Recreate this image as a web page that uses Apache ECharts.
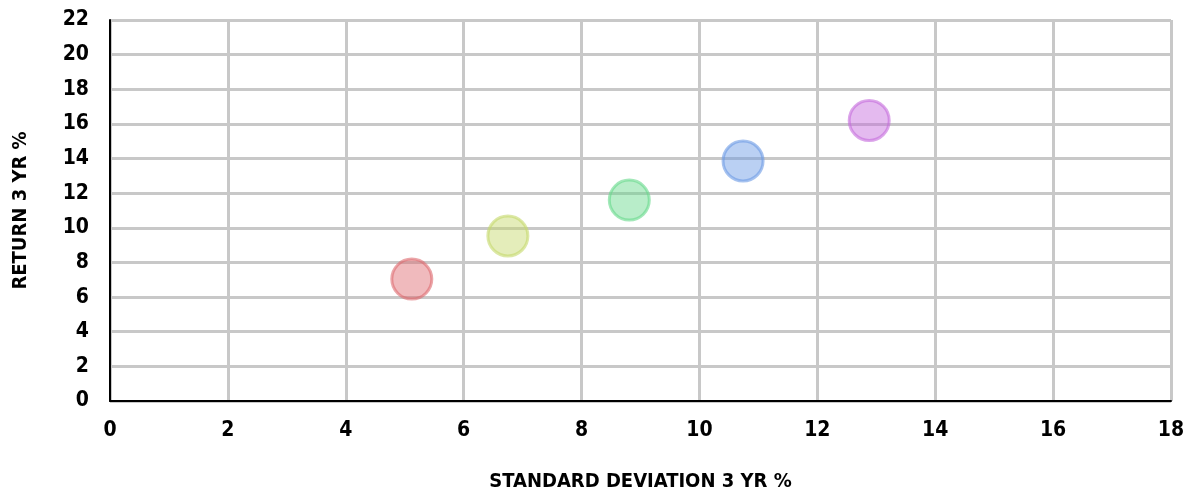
<!DOCTYPE html>
<html><head><meta charset="utf-8">
<script src="https://cdn.jsdelivr.net/npm/echarts@6/dist/echarts.min.js"></script>
<style>html,body{margin:0;padding:0;background:#fff}#c{width:1185px;height:491px}</style>
</head><body><div id="c"></div>
<script>
const stdDev = [5.12, 6.75, 8.81, 10.74, 12.88];
const returns = [7.04, 9.53, 11.6, 13.86, 16.2];
const colors = ['#DE6A70', '#C5D96A', '#66D98B', '#6A9AE4', '#C46ADC'];
const xTitle = 'STANDARD DEVIATION 3 YR %';
const yTitle = 'RETURN 3 YR %';

const font = '"DejaVu Sans Condensed", "DejaVu Sans", sans-serif';
const chart = echarts.init(document.getElementById('c'));
chart.setOption({
  animation: false,
  grid: {left: 110, right: 14, top: 20, bottom: 90, containLabel: false, outerBoundsMode: 'none'},
  xAxis: {
    type: 'value', min: 0, max: 18, interval: 2,
    name: xTitle, nameLocation: 'middle', nameGap: 71,
    nameTextStyle: {fontFamily: font, fontWeight: 'bold', fontSize: 20, color: '#000'},
    axisLine: {show: true, lineStyle: {color: '#000', width: 2}},
    axisTick: {show: false},
    axisLabel: {fontFamily: font, fontWeight: 'bold', fontSize: 21, color: '#000', margin: 19},
    splitLine: {show: true, lineStyle: {color: '#c8c8c8', width: 3}}
  },
  yAxis: {
    type: 'value', min: 0, max: 22, interval: 2,
    name: yTitle, nameLocation: 'middle', nameGap: 79, nameRotate: 90,
    nameTextStyle: {fontFamily: font, fontWeight: 'bold', fontSize: 20, color: '#000'},
    axisLine: {show: true, lineStyle: {color: '#000', width: 2}},
    axisTick: {show: false},
    axisLabel: {fontFamily: font, fontWeight: 'bold', fontSize: 21, color: '#000', margin: 21},
    splitLine: {show: true, lineStyle: {color: '#c8c8c8', width: 3}}
  },
  series: stdDev.map((x, i) => ({
    type: 'scatter',
    data: [[x, returns[i]]],
    symbolSize: 40,
    itemStyle: {
      color: echarts.color.modifyAlpha(colors[i], 0.58),
      borderColor: echarts.color.modifyAlpha(colors[i], 0.75),
      borderWidth: 3
    }
  }))
});
</script></body></html>
